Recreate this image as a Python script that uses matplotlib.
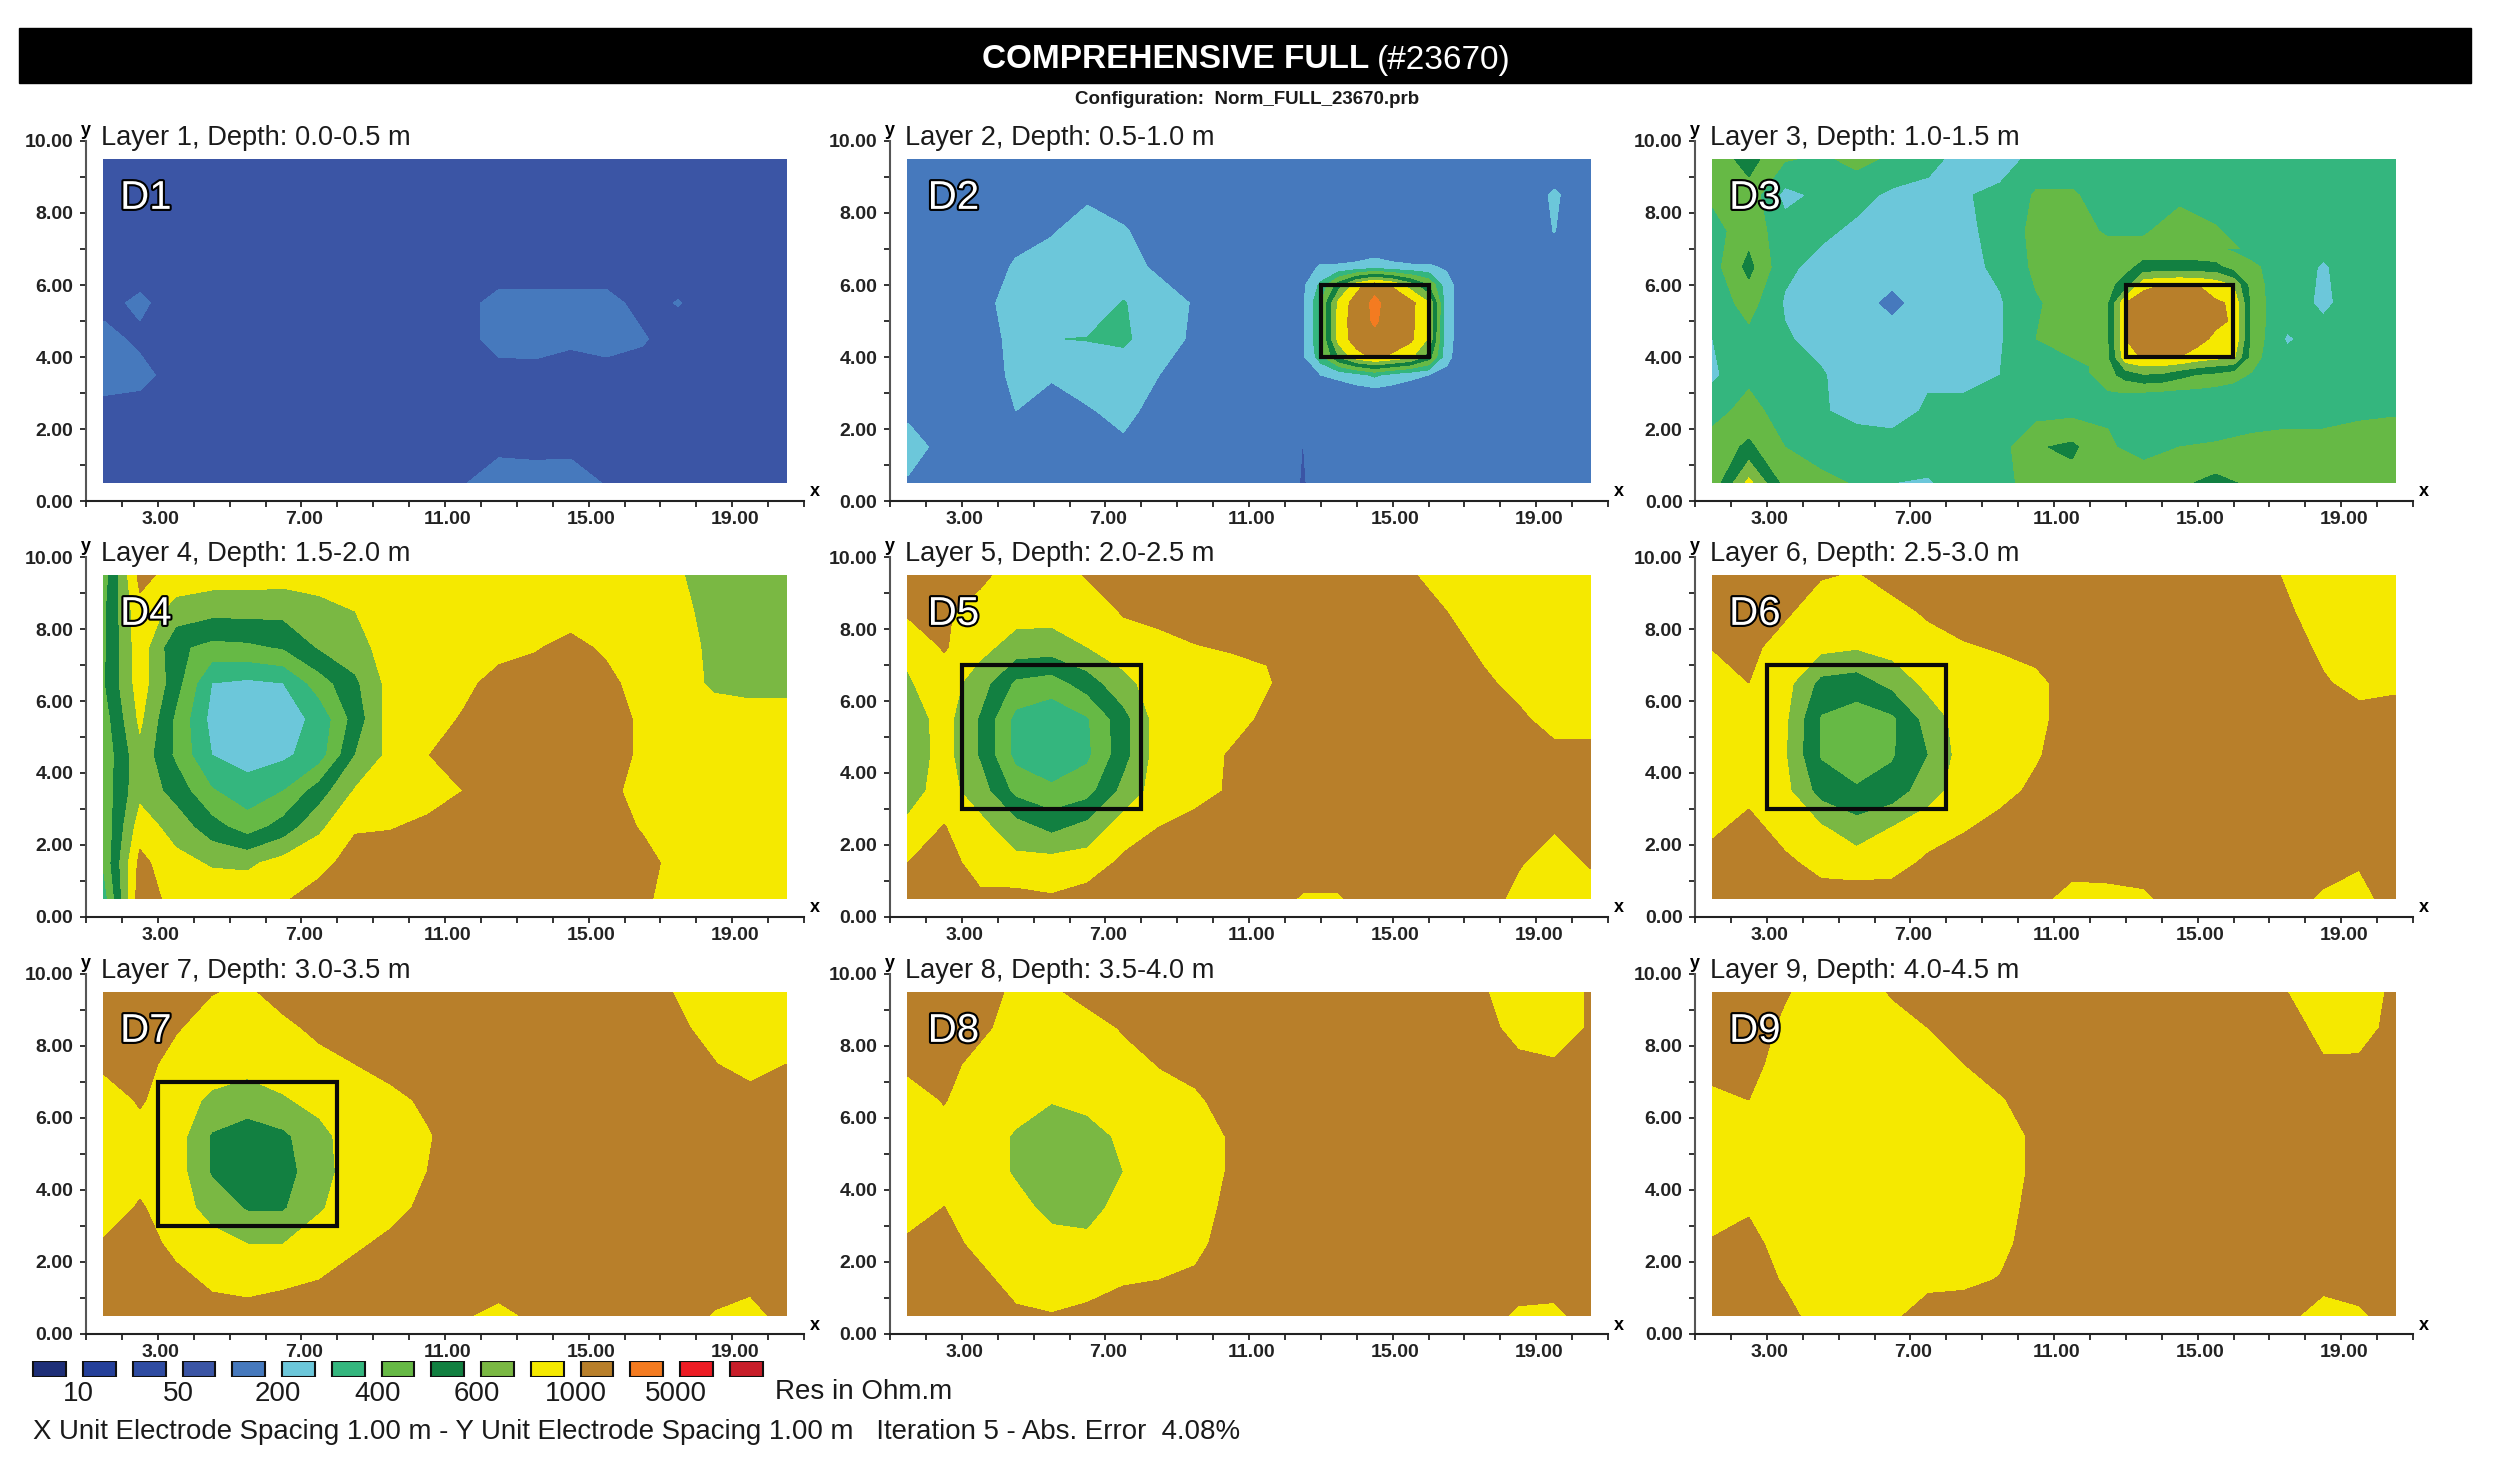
import numpy as np
import matplotlib
matplotlib.use('Agg')
import matplotlib.pyplot as plt
import matplotlib.patheffects as pe
from matplotlib.patches import Rectangle
from matplotlib.transforms import ScaledTranslation

plt.rcParams['font.family'] = ['Liberation Sans', 'DejaVu Sans']

W, H = 2501, 1464

# colour class of the legend, one per band (value k..k+1 is band k)
band_colors = ['#1e2f78', '#25409a', '#2f4ca2', '#3b55a5', '#4679bd', '#6cc7da', '#34b67e', '#66b945',
               '#128041', '#7ab843', '#f5e900', '#b87f2a', '#f47b20', '#ed1c24', '#c81e2a']
band_edges = list(range(16))
legend_ticks = [0.5, 2.5, 4.5, 6.5, 8.5, 10.5, 12.5]
legend_labels = ['10', '50', '200', '400', '600', '1000', '5000']

x_cells = [1.5, 2.5, 3.5, 4.5, 5.5, 6.5, 7.5, 8.5, 9.5, 10.5, 11.5, 12.5, 13.5, 14.5, 15.5, 16.5, 17.5, 18.5, 19.5, 20.5]
y_cells = [9.5, 8.5, 7.5, 6.5, 5.5, 4.5, 3.5, 2.5, 1.5, 0.5]
x_fine = [12, 12.5, 13, 13.5, 14, 14.5, 15, 15.5, 16, 16.5, 17]
y_fine = [7, 6.5, 6, 5.5, 5, 4.5, 4, 3.5, 3]

# band values per x column, y going from 9.5 down to 0.5
d1 = [
    [3.5, 3.5, 3.5, 3.5, 3.7, 4.3, 4.4, 3.7, 3.5, 3.5],
    [3.5, 3.5, 3.5, 3.5, 4.2, 3.8, 4.3, 3.6, 3.5, 3.5],
    [3.5, 3.5, 3.5, 3.5, 3.5, 3.5, 3.6, 3.5, 3.5, 3.5],
    [3.5, 3.5, 3.5, 3.5, 3.5, 3.5, 3.5, 3.5, 3.5, 3.5],
    [3.5, 3.5, 3.5, 3.5, 3.5, 3.5, 3.5, 3.5, 3.5, 3.5],
    [3.5, 3.5, 3.5, 3.5, 3.5, 3.5, 3.5, 3.5, 3.5, 3.5],
    [3.5, 3.5, 3.5, 3.5, 3.5, 3.5, 3.5, 3.5, 3.5, 3.5],
    [3.5, 3.5, 3.5, 3.5, 3.5, 3.5, 3.5, 3.5, 3.5, 3.5],
    [3.5, 3.5, 3.5, 3.5, 3.5, 3.5, 3.5, 3.5, 3.5, 3.5],
    [3.5, 3.5, 3.5, 3.5, 3.5, 3.5, 3.5, 3.5, 3.5, 3.5],
    [3.5, 3.5, 3.5, 3.5, 3.7, 3.6, 3.5, 3.5, 3.5, 3.9],
    [3.5, 3.5, 3.5, 3.5, 4.3, 4.4, 3.6, 3.5, 3.7, 4.7],
    [3.5, 3.5, 3.5, 3.5, 4.3, 4.5, 3.6, 3.5, 3.7, 4.5],
    [3.5, 3.5, 3.5, 3.5, 4.3, 4.2, 3.5, 3.5, 3.7, 4.6],
    [3.5, 3.5, 3.5, 3.5, 4.3, 4.4, 3.6, 3.5, 3.5, 3.9],
    [3.5, 3.5, 3.5, 3.5, 3.7, 4.1, 3.6, 3.5, 3.5, 3.5],
    [3.5, 3.5, 3.5, 3.5, 4.05, 3.5, 3.5, 3.5, 3.5, 3.5],
    [3.5, 3.5, 3.5, 3.5, 3.5, 3.5, 3.5, 3.5, 3.5, 3.5],
    [3.5, 3.5, 3.5, 3.5, 3.5, 3.5, 3.5, 3.5, 3.5, 3.5],
    [3.5, 3.5, 3.5, 3.5, 3.5, 3.5, 3.5, 3.5, 3.5, 3.5],
]
d2 = [
    [4.5, 4.5, 4.5, 4.5, 4.5, 4.5, 4.5, 4.8, 5.4, 4.9],
    [4.5, 4.5, 4.5, 4.5, 4.5, 4.5, 4.5, 4.5, 4.7, 4.5],
    [4.5, 4.5, 4.5, 4.5, 4.6, 4.5, 4.5, 4.5, 4.5, 4.5],
    [4.5, 4.5, 4.7, 5.1, 5.5, 5.3, 5.2, 5.0, 4.5, 4.5],
    [4.5, 4.6, 4.9, 5.5, 5.5, 5.98, 5.1, 4.6, 4.5, 4.5],
    [4.5, 4.8, 5.5, 5.5, 5.5, 6.03, 5.5, 4.9, 4.5, 4.5],
    [4.5, 4.5, 5.1, 5.4, 6.05, 6.15, 5.5, 5.3, 4.8, 4.5],
    [4.5, 4.5, 4.5, 4.8, 5.5, 5.5, 5.0, 4.6, 4.5, 4.5],
    [4.5, 4.5, 4.5, 4.5, 4.9, 4.8, 4.5, 4.5, 4.5, 4.5],
    [4.5, 4.5, 4.5, 4.5, 4.5, 4.5, 4.5, 4.5, 4.5, 4.5],
    [4.5, 4.5, 4.5, 4.5, 4.5, 4.5, 4.5, 4.5, 4.5, 4.5],
    [4.5, 4.5, 4.5, 4.5, 4.5, 4.5, 4.5, 4.5, 3.99, 3.95],
    [4.5, 4.5, 4.5, 4.5, 4.5, 4.5, 4.5, 4.5, 4.5, 4.5],
    [4.5, 4.5, 4.5, 4.5, 4.5, 4.5, 4.5, 4.5, 4.5, 4.5],
    [4.5, 4.5, 4.5, 4.5, 4.5, 4.5, 4.5, 4.5, 4.5, 4.5],
    [4.5, 4.5, 4.5, 4.5, 4.5, 4.5, 4.5, 4.5, 4.5, 4.5],
    [4.5, 4.5, 4.5, 4.5, 4.5, 4.5, 4.5, 4.5, 4.5, 4.5],
    [4.5, 4.5, 4.5, 4.5, 4.5, 4.5, 4.5, 4.5, 4.5, 4.5],
    [4.5, 5.1, 5.02, 4.5, 4.5, 4.5, 4.5, 4.5, 4.5, 4.5],
    [4.5, 4.5, 4.5, 4.5, 4.5, 4.5, 4.5, 4.5, 4.5, 4.5],
]
d2_target = [
    [4.5, 4.5, 4.5, 4.5, 4.5, 4.5, 4.5, 4.5, 4.5],
    [4.5, 4.6, 4.8, 4.8, 4.8, 4.8, 4.8, 4.6, 4.5],
    [4.5, 5.1, 6.2, 6.9, 6.9, 6.9, 6.5, 5.0, 4.5],
    [4.5, 5.1, 8.5, 10.3, 10.4, 10.4, 9.0, 5.2, 4.5],
    [4.5, 5.2, 10.6, 11.5, 11.6, 11.5, 10.6, 5.6, 4.5],
    [4.5, 5.5, 11.7, 12.2, 12.1, 11.8, 11.2, 6.2, 4.5],
    [4.5, 5.2, 10.9, 11.6, 11.6, 11.6, 10.8, 5.6, 4.5],
    [4.5, 5.1, 9.5, 11.3, 11.3, 11.2, 10.2, 5.2, 4.5],
    [4.5, 5.1, 8.0, 10.1, 10.0, 9.9, 8.5, 5.0, 4.5],
    [4.5, 4.9, 5.3, 5.3, 5.3, 5.3, 5.2, 4.8, 4.5],
    [4.5, 4.5, 4.5, 4.5, 4.5, 4.5, 4.5, 4.5, 4.5],
]
d3 = [
    [7.4, 7.2, 6.6, 6.6, 6.4, 6.0, 5.8, 6.7, 7.4, 7.3],
    [8.4, 7.6, 7.6, 8.3, 7.4, 6.7, 6.8, 7.3, 8.2, 10.3],
    [7.1, 5.7, 6.4, 6.2, 5.9, 6.1, 6.4, 6.6, 7.0, 7.6],
    [6.8, 6.2, 6.2, 5.7, 5.5, 5.7, 6.1, 6.1, 6.5, 7.3],
    [7.3, 6.3, 5.8, 5.5, 5.4, 5.5, 5.5, 5.7, 6.5, 6.9],
    [6.8, 5.8, 5.5, 5.5, 4.7, 5.5, 5.6, 5.7, 6.3, 6.0],
    [6.3, 5.7, 5.5, 5.5, 5.5, 5.5, 5.9, 6.1, 6.5, 5.9],
    [5.6, 5.9, 5.8, 5.7, 5.5, 5.5, 5.6, 6.4, 6.5, 6.5],
    [5.4, 6.3, 6.3, 6.2, 5.9, 5.9, 6.0, 6.5, 6.6, 6.7],
    [6.4, 7.1, 7.3, 7.2, 6.9, 7.0, 6.5, 6.6, 7.9, 7.4],
    [6.5, 7.1, 7.3, 7.6, 7.4, 7.3, 6.7, 6.7, 8.2, 7.6],
    [6.5, 6.6, 6.9, 7.5, 7.6, 7.7, 7.0, 6.9, 7.1, 7.4],
    [6.5, 6.5, 6.9, 7.6, 7.5, 7.5, 7.1, 6.4, 6.7, 7.5],
    [6.5, 6.8, 7.4, 7.6, 7.5, 7.5, 6.9, 6.5, 7.0, 7.8],
    [6.5, 6.5, 7.1, 7.1, 7.5, 7.5, 6.8, 6.4, 7.1, 8.3],
    [6.5, 6.5, 6.5, 7.1, 7.1, 7.1, 6.5, 6.5, 7.3, 7.8],
    [6.5, 6.5, 6.5, 6.5, 6.5, 5.9, 6.5, 6.6, 7.4, 7.5],
    [6.5, 6.5, 6.5, 5.9, 5.8, 6.4, 6.5, 6.6, 7.4, 7.5],
    [6.5, 6.5, 6.5, 6.5, 6.5, 6.5, 6.5, 6.8, 7.5, 7.5],
    [6.5, 6.5, 6.5, 6.5, 6.5, 6.5, 6.5, 6.9, 7.5, 7.5],
]
d3_target = [
    [7.4, 7.5, 7.5, 7.5, 7.5, 7.5, 7.5, 6.9, 6.8],
    [7.4, 7.6, 7.7, 7.8, 7.8, 7.8, 7.8, 7.6, 6.9],
    [7.5, 7.7, 8.4, 11.0, 11.0, 11.0, 10.7, 8.4, 7.0],
    [7.5, 8.3, 10.7, 11.6, 11.6, 11.6, 11.1, 8.9, 6.9],
    [7.5, 8.3, 11.0, 11.6, 11.6, 11.6, 11.1, 8.8, 6.8],
    [7.5, 8.3, 11.1, 11.6, 11.6, 11.5, 11.0, 8.3, 6.7],
    [7.4, 8.3, 11.0, 11.5, 11.5, 11.3, 10.6, 7.9, 6.7],
    [7.1, 8.3, 10.6, 11.1, 11.2, 10.8, 10.3, 7.7, 6.6],
    [6.9, 7.5, 9.9, 10.9, 10.9, 10.9, 10.2, 7.3, 6.6],
    [6.6, 7.2, 7.5, 7.7, 7.7, 7.7, 7.5, 6.9, 6.5],
    [6.5, 6.8, 6.8, 6.8, 6.8, 6.7, 6.6, 6.5, 6.5],
]
d4 = [
    [7.5, 7.8, 7.8, 7.9, 7.5, 7.3, 7.4, 7.2, 7.2, 6.5],
    [11.3, 10.7, 10.6, 10.5, 10.2, 9.7, 9.7, 10.5, 11.3, 11.6],
    [10.6, 9.6, 8.2, 8.4, 7.8, 7.8, 8.6, 9.6, 10.3, 10.6],
    [10.5, 9.3, 7.7, 6.0, 5.7, 6.0, 7.1, 8.4, 9.9, 10.6],
    [10.5, 9.3, 7.8, 5.8, 5.5, 5.6, 6.4, 7.5, 9.8, 10.7],
    [10.4, 9.3, 8.1, 6.0, 5.5, 5.8, 7.0, 8.4, 10.4, 10.9],
    [10.4, 9.7, 9.1, 7.5, 6.3, 6.5, 8.5, 9.8, 10.7, 11.4],
    [10.6, 10.0, 9.6, 8.8, 8.4, 9.0, 10.1, 10.9, 11.4, 11.5],
    [10.5, 10.5, 10.5, 10.4, 10.5, 10.3, 10.5, 10.95, 11.5, 11.5],
    [10.5, 10.5, 10.5, 10.5, 10.5, 10.97, 10.6, 11.2, 11.5, 11.5],
    [10.5, 10.5, 10.5, 10.7, 11.1, 11.4, 11.0, 11.5, 11.5, 11.5],
    [10.5, 10.5, 10.6, 11.4, 11.5, 11.5, 11.5, 11.5, 11.5, 11.5],
    [10.5, 10.5, 10.9, 11.5, 11.5, 11.5, 11.5, 11.5, 11.5, 11.5],
    [10.5, 10.5, 11.3, 11.5, 11.5, 11.5, 11.5, 11.5, 11.5, 11.5],
    [10.5, 10.5, 10.8, 11.3, 11.5, 11.5, 11.3, 11.5, 11.5, 11.5],
    [10.5, 10.5, 10.5, 10.5, 10.8, 10.8, 10.6, 10.9, 11.4, 11.2],
    [10.1, 10.3, 10.5, 10.5, 10.5, 10.5, 10.5, 10.5, 10.6, 10.5],
    [9.5, 9.6, 9.7, 9.8, 10.5, 10.5, 10.5, 10.5, 10.5, 10.5],
    [9.5, 9.5, 9.5, 9.6, 10.5, 10.5, 10.5, 10.5, 10.5, 10.5],
    [9.5, 9.5, 9.5, 9.7, 10.4, 10.5, 10.5, 10.5, 10.5, 10.5],
]
d5 = [
    [11.5, 11.2, 10.2, 9.9, 9.4, 9.3, 9.6, 10.2, 11.0, 11.5],
    [11.5, 11.1, 11.1, 10.5, 10.4, 10.4, 10.4, 11.05, 11.4, 11.5],
    [11.2, 10.7, 10.3, 9.5, 8.9, 8.9, 9.5, 10.3, 10.6, 11.2],
    [10.6, 10.4, 9.6, 7.8, 6.7, 6.7, 7.7, 9.4, 10.3, 11.3],
    [10.4, 10.4, 9.5, 7.5, 6.3, 6.3, 7.2, 8.7, 10.4, 11.1],
    [11.1, 10.4, 10.0, 8.5, 6.9, 6.8, 7.6, 9.3, 10.5, 11.4],
    [11.5, 11.1, 10.5, 9.7, 8.6, 8.6, 9.3, 10.5, 11.2, 11.5],
    [11.5, 11.4, 10.6, 10.5, 10.5, 10.5, 10.5, 11.0, 11.5, 11.5],
    [11.5, 11.5, 10.95, 10.5, 10.5, 10.5, 10.7, 11.3, 11.5, 11.5],
    [11.5, 11.5, 11.1, 10.5, 10.6, 11.1, 11.1, 11.5, 11.5, 11.5],
    [11.5, 11.5, 11.1, 10.9, 11.2, 11.5, 11.5, 11.5, 11.5, 11.4],
    [11.5, 11.5, 11.5, 11.5, 11.5, 11.5, 11.5, 11.5, 11.5, 10.9],
    [11.5, 11.5, 11.5, 11.5, 11.5, 11.5, 11.5, 11.5, 11.5, 10.9],
    [11.5, 11.5, 11.5, 11.5, 11.5, 11.5, 11.5, 11.5, 11.5, 11.5],
    [11.1, 11.5, 11.5, 11.5, 11.5, 11.5, 11.5, 11.5, 11.5, 11.5],
    [10.5, 11.0, 11.4, 11.5, 11.5, 11.5, 11.5, 11.5, 11.5, 11.5],
    [10.5, 10.5, 10.8, 11.2, 11.5, 11.5, 11.5, 11.5, 11.5, 11.5],
    [10.5, 10.5, 10.5, 10.7, 11.2, 11.5, 11.5, 11.5, 11.1, 10.7],
    [10.5, 10.5, 10.5, 10.5, 10.6, 11.3, 11.5, 11.1, 10.5, 10.5],
    [10.5, 10.5, 10.5, 10.5, 10.6, 11.3, 11.5, 11.5, 11.1, 10.5],
]
d6 = [
    [11.5, 11.5, 11.05, 10.5, 10.4, 10.4, 10.4, 10.8, 11.4, 11.5],
    [11.5, 11.5, 11.3, 11.0, 10.4, 10.4, 10.7, 11.3, 11.5, 11.5],
    [11.4, 11.2, 10.5, 10.4, 10.2, 10.1, 10.3, 10.6, 11.2, 11.5],
    [11.1, 10.4, 10.3, 8.7, 7.9, 7.9, 8.6, 10.1, 10.7, 11.4],
    [10.9, 10.4, 10.1, 8.5, 7.5, 7.5, 8.1, 9.4, 10.5, 11.5],
    [11.5, 10.6, 10.4, 9.3, 7.8, 7.9, 8.4, 10.0, 10.6, 11.5],
    [11.5, 11.2, 10.5, 10.3, 9.4, 9.0, 9.6, 10.5, 11.2, 11.5],
    [11.5, 11.5, 10.9, 10.5, 10.5, 10.5, 10.5, 10.9, 11.5, 11.5],
    [11.5, 11.5, 11.1, 10.5, 10.5, 10.5, 10.7, 11.3, 11.5, 11.5],
    [11.5, 11.5, 11.4, 10.7, 10.7, 10.9, 11.2, 11.5, 11.5, 11.3],
    [11.5, 11.5, 11.5, 11.5, 11.5, 11.5, 11.5, 11.5, 11.4, 10.6],
    [11.5, 11.5, 11.5, 11.5, 11.5, 11.5, 11.5, 11.5, 11.5, 10.6],
    [11.5, 11.5, 11.5, 11.5, 11.5, 11.5, 11.5, 11.5, 11.5, 10.8],
    [11.5, 11.5, 11.5, 11.5, 11.5, 11.5, 11.5, 11.5, 11.5, 11.5],
    [11.5, 11.5, 11.5, 11.5, 11.5, 11.5, 11.5, 11.5, 11.5, 11.5],
    [11.4, 11.5, 11.5, 11.5, 11.5, 11.5, 11.5, 11.5, 11.5, 11.5],
    [10.9, 11.1, 11.4, 11.5, 11.5, 11.5, 11.5, 11.5, 11.5, 11.5],
    [10.5, 10.6, 10.8, 11.1, 11.5, 11.5, 11.5, 11.5, 11.5, 10.8],
    [10.5, 10.5, 10.5, 10.7, 11.3, 11.5, 11.5, 11.5, 11.1, 10.6],
    [10.5, 10.5, 10.5, 10.8, 11.4, 11.5, 11.5, 11.5, 11.5, 11.5],
]
d7 = [
    [11.5, 11.5, 11.2, 10.5, 10.5, 10.5, 10.5, 11.1, 11.5, 11.5],
    [11.5, 11.5, 11.4, 11.1, 10.7, 10.7, 11.1, 11.5, 11.5, 11.5],
    [11.5, 11.1, 10.6, 10.5, 10.5, 10.5, 10.5, 10.7, 11.3, 11.5],
    [11.05, 10.5, 10.5, 9.8, 8.9, 8.9, 9.6, 10.4, 10.8, 11.4],
    [10.8, 10.5, 10.4, 9.4, 8.6, 8.5, 8.9, 10.0, 10.6, 11.4],
    [11.5, 10.7, 10.5, 9.9, 8.8, 8.6, 8.9, 10.0, 10.8, 11.5],
    [11.5, 11.3, 10.6, 10.3, 9.7, 9.6, 9.9, 10.5, 11.0, 11.5],
    [11.5, 11.5, 11.0, 10.5, 10.5, 10.5, 10.5, 10.8, 11.5, 11.5],
    [11.5, 11.5, 11.4, 10.7, 10.5, 10.5, 10.6, 11.3, 11.5, 11.5],
    [11.5, 11.5, 11.5, 11.2, 10.9, 11.0, 11.3, 11.5, 11.5, 11.5],
    [11.5, 11.5, 11.5, 11.5, 11.5, 11.5, 11.5, 11.5, 11.5, 11.1],
    [11.5, 11.5, 11.5, 11.5, 11.5, 11.5, 11.5, 11.5, 11.5, 10.7],
    [11.5, 11.5, 11.5, 11.5, 11.5, 11.5, 11.5, 11.5, 11.5, 11.2],
    [11.5, 11.5, 11.5, 11.5, 11.5, 11.5, 11.5, 11.5, 11.5, 11.5],
    [11.5, 11.5, 11.5, 11.5, 11.5, 11.5, 11.5, 11.5, 11.5, 11.5],
    [11.5, 11.5, 11.5, 11.5, 11.5, 11.5, 11.5, 11.5, 11.5, 11.5],
    [10.9, 11.2, 11.5, 11.5, 11.5, 11.5, 11.5, 11.5, 11.5, 11.5],
    [10.5, 10.6, 11.05, 11.5, 11.5, 11.5, 11.5, 11.5, 11.5, 10.9],
    [10.5, 10.5, 10.5, 11.5, 11.5, 11.5, 11.5, 11.5, 11.4, 10.5],
    [10.5, 10.5, 11.0, 11.5, 11.5, 11.5, 11.5, 11.5, 11.5, 11.5],
]
d8 = [
    [11.5, 11.5, 11.2, 10.6, 10.5, 10.5, 10.5, 11.2, 11.5, 11.5],
    [11.5, 11.5, 11.3, 11.05, 10.7, 10.6, 11.02, 11.4, 11.5, 11.5],
    [11.4, 11.2, 10.7, 10.5, 10.5, 10.5, 10.5, 10.7, 11.3, 11.5],
    [10.8, 10.6, 10.5, 10.4, 9.9, 9.9, 10.3, 10.5, 10.6, 11.2],
    [10.8, 10.5, 10.5, 10.05, 9.5, 9.5, 9.75, 10.3, 10.5, 11.05],
    [11.4, 10.5, 10.5, 10.3, 9.6, 9.5, 9.7, 10.2, 10.5, 11.3],
    [11.5, 11.1, 10.6, 10.5, 10.2, 10.0, 10.3, 10.5, 10.9, 11.5],
    [11.5, 11.5, 11.05, 10.6, 10.5, 10.5, 10.5, 10.5, 11.0, 11.5],
    [11.5, 11.5, 11.4, 10.8, 10.5, 10.5, 10.5, 10.7, 11.2, 11.5],
    [11.5, 11.5, 11.5, 11.5, 11.1, 11.1, 11.3, 11.5, 11.5, 11.5],
    [11.5, 11.5, 11.5, 11.5, 11.5, 11.5, 11.5, 11.5, 11.5, 11.5],
    [11.5, 11.5, 11.5, 11.5, 11.5, 11.5, 11.5, 11.5, 11.5, 11.5],
    [11.5, 11.5, 11.5, 11.5, 11.5, 11.5, 11.5, 11.5, 11.5, 11.5],
    [11.5, 11.5, 11.5, 11.5, 11.5, 11.5, 11.5, 11.5, 11.5, 11.5],
    [11.5, 11.5, 11.5, 11.5, 11.5, 11.5, 11.5, 11.5, 11.5, 11.5],
    [11.5, 11.5, 11.5, 11.5, 11.5, 11.5, 11.5, 11.5, 11.5, 11.5],
    [11.1, 11.3, 11.5, 11.5, 11.5, 11.5, 11.5, 11.5, 11.5, 11.5],
    [10.5, 10.7, 11.2, 11.5, 11.5, 11.5, 11.5, 11.5, 11.5, 10.8],
    [10.5, 10.5, 11.1, 11.5, 11.5, 11.5, 11.5, 11.5, 11.5, 10.7],
    [11.1, 11.1, 11.5, 11.5, 11.5, 11.5, 11.5, 11.5, 11.5, 11.5],
]
d9 = [
    [11.5, 11.5, 11.3, 10.8, 10.5, 10.5, 10.6, 11.1, 11.5, 11.5],
    [11.5, 11.5, 11.3, 11.0, 10.5, 10.5, 10.9, 11.3, 11.5, 11.5],
    [11.1, 10.8, 10.6, 10.5, 10.5, 10.5, 10.5, 10.6, 10.9, 11.3],
    [10.5, 10.5, 10.5, 10.5, 10.5, 10.5, 10.5, 10.5, 10.5, 10.6],
    [10.5, 10.5, 10.5, 10.5, 10.5, 10.5, 10.5, 10.5, 10.5, 10.5],
    [11.1, 10.6, 10.5, 10.5, 10.5, 10.5, 10.5, 10.5, 10.5, 10.8],
    [11.5, 11.0, 10.6, 10.5, 10.5, 10.5, 10.5, 10.5, 10.7, 11.5],
    [11.5, 11.5, 11.0, 10.6, 10.5, 10.5, 10.5, 10.5, 10.8, 11.5],
    [11.5, 11.5, 11.5, 10.9, 10.5, 10.5, 10.5, 10.7, 11.05, 11.5],
    [11.5, 11.5, 11.5, 11.5, 11.2, 11.2, 11.4, 11.5, 11.5, 11.5],
    [11.5, 11.5, 11.5, 11.5, 11.5, 11.5, 11.5, 11.5, 11.5, 11.5],
    [11.5, 11.5, 11.5, 11.5, 11.5, 11.5, 11.5, 11.5, 11.5, 11.5],
    [11.5, 11.5, 11.5, 11.5, 11.5, 11.5, 11.5, 11.5, 11.5, 11.5],
    [11.5, 11.5, 11.5, 11.5, 11.5, 11.5, 11.5, 11.5, 11.5, 11.5],
    [11.5, 11.5, 11.5, 11.5, 11.5, 11.5, 11.5, 11.5, 11.5, 11.5],
    [11.5, 11.5, 11.5, 11.5, 11.5, 11.5, 11.5, 11.5, 11.5, 11.5],
    [11.0, 11.4, 11.5, 11.5, 11.5, 11.5, 11.5, 11.5, 11.5, 11.2],
    [10.5, 10.7, 11.1, 11.5, 11.5, 11.5, 11.5, 11.5, 11.3, 10.6],
    [10.5, 10.5, 11.2, 11.5, 11.5, 11.5, 11.5, 11.5, 11.5, 10.8],
    [11.2, 11.4, 11.5, 11.5, 11.5, 11.5, 11.5, 11.5, 11.5, 11.5],
]

layers = [d1, d2, d3, d4, d5, d6, d7, d8, d9]
targets = {1: d2_target, 2: d3_target}
depths = ['0.0-0.5', '0.5-1.0', '1.0-1.5', '1.5-2.0', '2.0-2.5', '2.5-3.0', '3.0-3.5', '3.5-4.0', '4.0-4.5']
# buried objects: x0, y0, width, height
boxes = {1: (13, 4, 3, 2), 2: (13, 4, 3, 2), 4: (3, 3, 5, 4), 5: (3, 3, 5, 4), 6: (3, 3, 5, 4)}

col_left = [86, 890, 1695]
row_bottom = [501, 917, 1334]

fig = plt.figure(figsize=(W / 100, H / 100), dpi=100)


def px_axes(left, top, right, bottom):
    return fig.add_axes([left / W, 1 - bottom / H, (right - left) / W, (bottom - top) / H])


def px_text(x, y, s, **kw):
    fig.text(x / W, 1 - y / H, s, va='center', **kw)


def nudge_labels(ax, px):
    # the original's tick labels sit a little to the right of their ticks
    for lbl in ax.get_xticklabels():
        lbl.set_transform(lbl.get_transform() + ScaledTranslation(px / 100, 0, fig.dpi_scale_trans))


for i, grid in enumerate(layers):
    left = col_left[i % 3]
    bottom = row_bottom[i // 3]
    ax = px_axes(left, bottom - 360, left + 718, bottom)
    ax.contourf(x_cells, y_cells, np.array(grid).T, levels=band_edges, colors=band_colors)
    if i in targets:
        ax.contourf(x_fine, y_fine, np.array(targets[i]).T, levels=band_edges, colors=band_colors)
    if i in boxes:
        x0, y0, w, h = boxes[i]
        ax.add_patch(Rectangle((x0, y0), w, h, fill=False, edgecolor='#0a0a0a', linewidth=3, zorder=5))

    ax.set_xlim(1, 21)
    ax.set_ylim(0, 10)
    ax.spines['top'].set_visible(False)
    ax.spines['right'].set_visible(False)
    ax.spines['left'].set_color('#555555')
    ax.spines['bottom'].set_color('#222222')
    ax.spines['left'].set_linewidth(1.5)
    ax.spines['bottom'].set_linewidth(1.5)
    ax.set_xticks([3, 7, 11, 15, 19])
    ax.set_xticklabels(['3.00', '7.00', '11.00', '15.00', '19.00'], fontweight='bold', fontsize=14, color='#222222')
    ax.set_xticks(np.arange(1, 22), minor=True)
    ax.set_yticks([0, 2, 4, 6, 8, 10])
    ax.set_yticklabels(['0.00', '2.00', '4.00', '6.00', '8.00', '10.00'], fontweight='bold', fontsize=14, color='#222222')
    ax.set_yticks([1, 3, 5, 7, 9], minor=True)
    ax.tick_params(axis='both', which='both', length=4, width=1.3, color='#222222', pad=5)
    ax.tick_params(axis='x', pad=3)
    nudge_labels(ax, 3)

    ax.text(21.15, 0.25, 'x', fontweight='bold', fontsize=13, ha='left', va='center', clip_on=False)
    ax.text(1.0, 10.28, 'y', fontweight='bold', fontsize=13, ha='center', va='center', clip_on=False)
    ax.text(1.42, 10.08, 'Layer %d, Depth: %s m' % (i + 1, depths[i]), fontsize=19.6, color='#1a1a1a',
            ha='left', va='center', clip_on=False)
    ax.text(1.95 + 0.1 * (i % 3 == 1), 8.42, 'D%d' % (i + 1), fontsize=29, color='white', ha='left', va='center',
            zorder=6, path_effects=[pe.withStroke(linewidth=3, foreground='black')])

# legend strip
leg = px_axes(25, 1361, 771, 1377)
leg.bar(range(15), [1] * 15, width=0.66, color=band_colors, edgecolor='#111111', linewidth=1.5)
leg.set_xlim(-0.5, 14.5)
leg.set_ylim(0, 1)
leg.set_xticks(legend_ticks)
leg.set_xticklabels(legend_labels, fontsize=20, color='#1a1a1a')
leg.set_yticks([])
leg.tick_params(axis='x', length=0, pad=3)
nudge_labels(leg, 4)
for side in leg.spines.values():
    side.set_visible(False)
leg.patch.set_alpha(0)

px_text(775, 1392, 'Res in Ohm.m', fontsize=20, color='#1a1a1a', ha='left')
px_text(33, 1432, 'X Unit Electrode Spacing 1.00 m - Y Unit Electrode Spacing 1.00 m   Iteration 5 - Abs. Error  4.08%',
        fontsize=19.9, color='#1a1a1a', ha='left')

# header
fig.add_artist(Rectangle((19 / W, 1 - 83 / H), 2452 / W, 55 / H, transform=fig.transFigure, color='black'))
px_text(1369, 60, 'COMPREHENSIVE FULL', fontsize=24, fontweight='bold', color='white', ha='right')
px_text(1377, 60, '(#23670)', fontsize=24, color='white', ha='left')
px_text(1247, 100, 'Configuration:  Norm_FULL_23670.prb', fontsize=13.5, fontweight='bold', color='#1a1a1a', ha='center')

fig.savefig('out.png', dpi=100)
